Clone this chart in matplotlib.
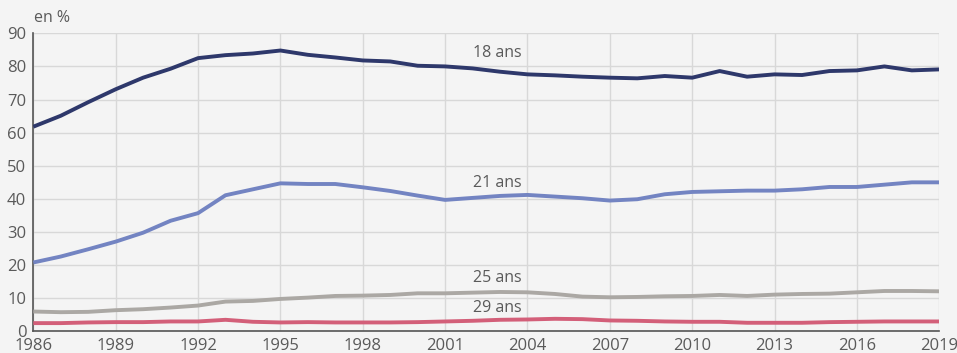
import matplotlib.pyplot as plt
import numpy as np

plt.rcParams.update({
    "font.family": ["Open Sans", "DejaVu Sans"],
    "font.size": 11,
})

# Share of young people living with their parents, by age (in %)
years = np.arange(1986, 2020)
age_18 = [61.8, 65.1, 69.2, 73.1, 76.6, 79.3, 82.5, 83.4, 83.9, 84.8,
          83.5, 82.7, 81.8, 81.5, 80.2, 80.0, 79.4, 78.4, 77.6, 77.3,
          76.9, 76.6, 76.4, 77.1, 76.6, 78.6, 76.9, 77.6, 77.4, 78.6,
          78.8, 80.0, 78.8, 79.1]
age_21 = [20.8, 22.6, 24.8, 27.1, 29.8, 33.4, 35.7, 41.1, 42.9, 44.7,
          44.5, 44.5, 43.5, 42.4, 41.0, 39.7, 40.3, 40.9, 41.2, 40.7,
          40.2, 39.5, 39.9, 41.4, 42.1, 42.3, 42.5, 42.5, 42.9, 43.6,
          43.6, 44.3, 45.0, 45.0]
age_25 = [6.0, 5.8, 5.9, 6.4, 6.7, 7.2, 7.8, 9.0, 9.2, 9.8,
          10.2, 10.7, 10.8, 11.0, 11.5, 11.5, 11.7, 11.9, 11.8, 11.3,
          10.5, 10.3, 10.4, 10.6, 10.7, 11.0, 10.7, 11.1, 11.3, 11.4,
          11.8, 12.2, 12.2, 12.1]
age_29 = [2.5, 2.5, 2.7, 2.8, 2.8, 3.0, 3.0, 3.5, 2.9, 2.7,
          2.8, 2.7, 2.7, 2.7, 2.8, 3.0, 3.2, 3.5, 3.6, 3.8,
          3.7, 3.3, 3.2, 3.0, 2.9, 2.9, 2.6, 2.6, 2.6, 2.8,
          2.9, 3.0, 3.0, 3.0]

series = [
    ("18 ans", age_18, "#2e386b", 84.1),
    ("21 ans", age_21, "#7384c2", 44.9),
    ("25 ans", age_25, "#aba8a4", 16.0),
    ("29 ans", age_29, "#d35f79", 7.0),
]
x_ticks = np.arange(1986, 2020, 3)
y_ticks = np.arange(0, 91, 10)

bg = "#f4f4f4"
grid_col = "#d8d8d8"
text_col = "#5a5a5a"

fig = plt.figure(figsize=(9.57, 3.53), dpi=100, facecolor=bg)
ax = fig.add_axes([0.0348, 0.0612, 0.9467, 0.8445], facecolor=bg)

for label, vals, color, ly in series:
    ax.plot(years, vals, color=color, linewidth=2.8, solid_capstyle="butt",
            zorder=3)
    ax.text(2003.8, ly, label, ha="right", va="center", color=text_col,
            fontsize=11.5)

ax.set_xlim(1986, 2019)
ax.set_ylim(0, 90)
ax.set_xticks(x_ticks)
ax.set_yticks(y_ticks)
ax.grid(True, color=grid_col, linewidth=1.0, zorder=0)

for side in ["top", "right"]:
    ax.spines[side].set_visible(False)
for side in ["left", "bottom"]:
    ax.spines[side].set_color("#555555")
    ax.spines[side].set_linewidth(1.2)
ax.spines["bottom"].set_zorder(4)

ax.tick_params(axis="both", length=0, labelsize=12, colors=text_col)
ax.tick_params(axis="x", pad=5)
ax.tick_params(axis="y", pad=5)

fig.text(0.0355, 0.948, "en %", ha="left", va="center", color=text_col,
         fontsize=11.5)

plt.savefig("out.png", dpi=100, facecolor=bg)
